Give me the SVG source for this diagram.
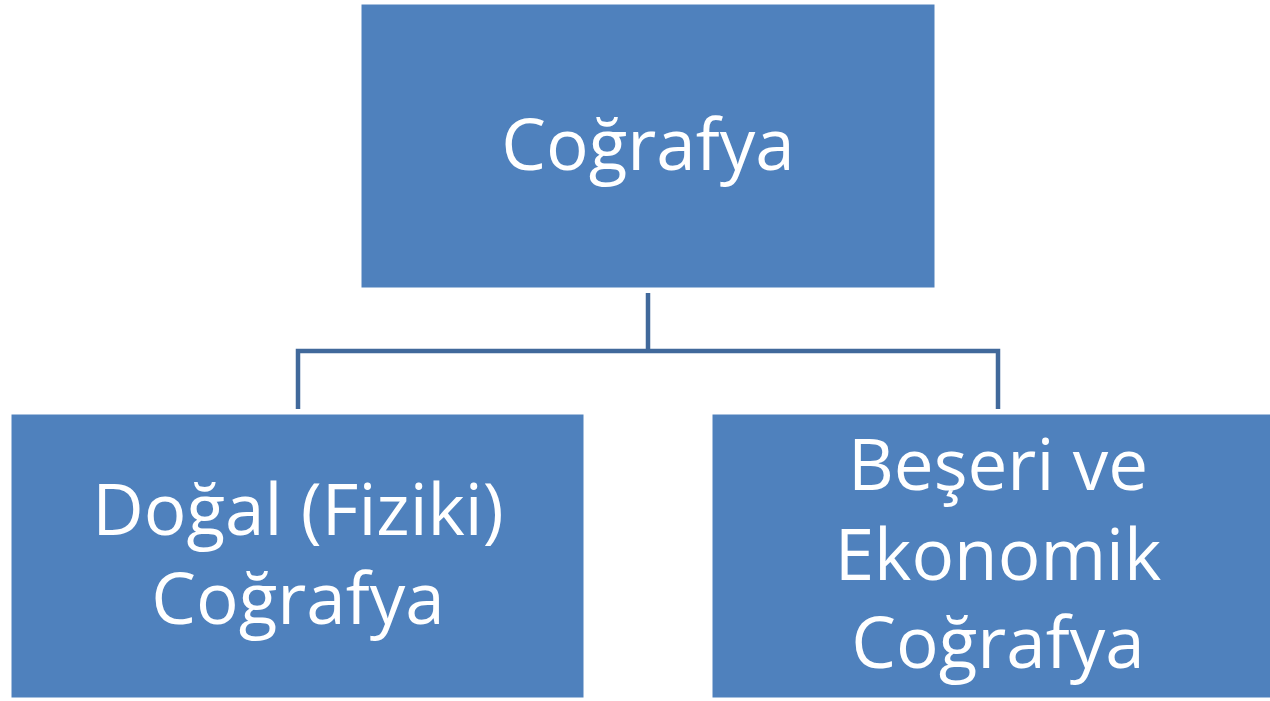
<svg xmlns="http://www.w3.org/2000/svg" width="1270" height="701" viewBox="0 0 1270 701">
<style>
.box{fill:#4f81bd;stroke:#ffffff;stroke-width:1}
.lbl{font-family:"Open Sans","Noto Sans",sans-serif;font-size:71px;fill:#ffffff;text-anchor:middle}
.conn{fill:none;stroke:#41699b;stroke-width:4.5}
</style>
<rect width="1270" height="701" fill="#ffffff"/>
<g id="connectors">
<path class="conn" d="M648 293V351M298 409V351H998V409"/>
</g>
<g id="node-cografya">
<rect class="box" x="361" y="4" width="574" height="284"/>
<text class="lbl" x="648" y="170">Coğrafya</text>
</g>
<g id="node-dogal">
<rect class="box" x="11" y="414" width="573" height="284"/>
<text class="lbl" x="298" y="535">Doğal (Fiziki)</text>
<text class="lbl" x="298" y="624">Coğrafya</text>
</g>
<g id="node-beseri">
<rect class="box" x="712" y="414" width="572" height="284"/>
<text class="lbl" x="998" y="490">Beşeri ve</text>
<text class="lbl" x="998" y="580">Ekonomik</text>
<text class="lbl" x="998" y="668">Coğrafya</text>
</g>
</svg>
